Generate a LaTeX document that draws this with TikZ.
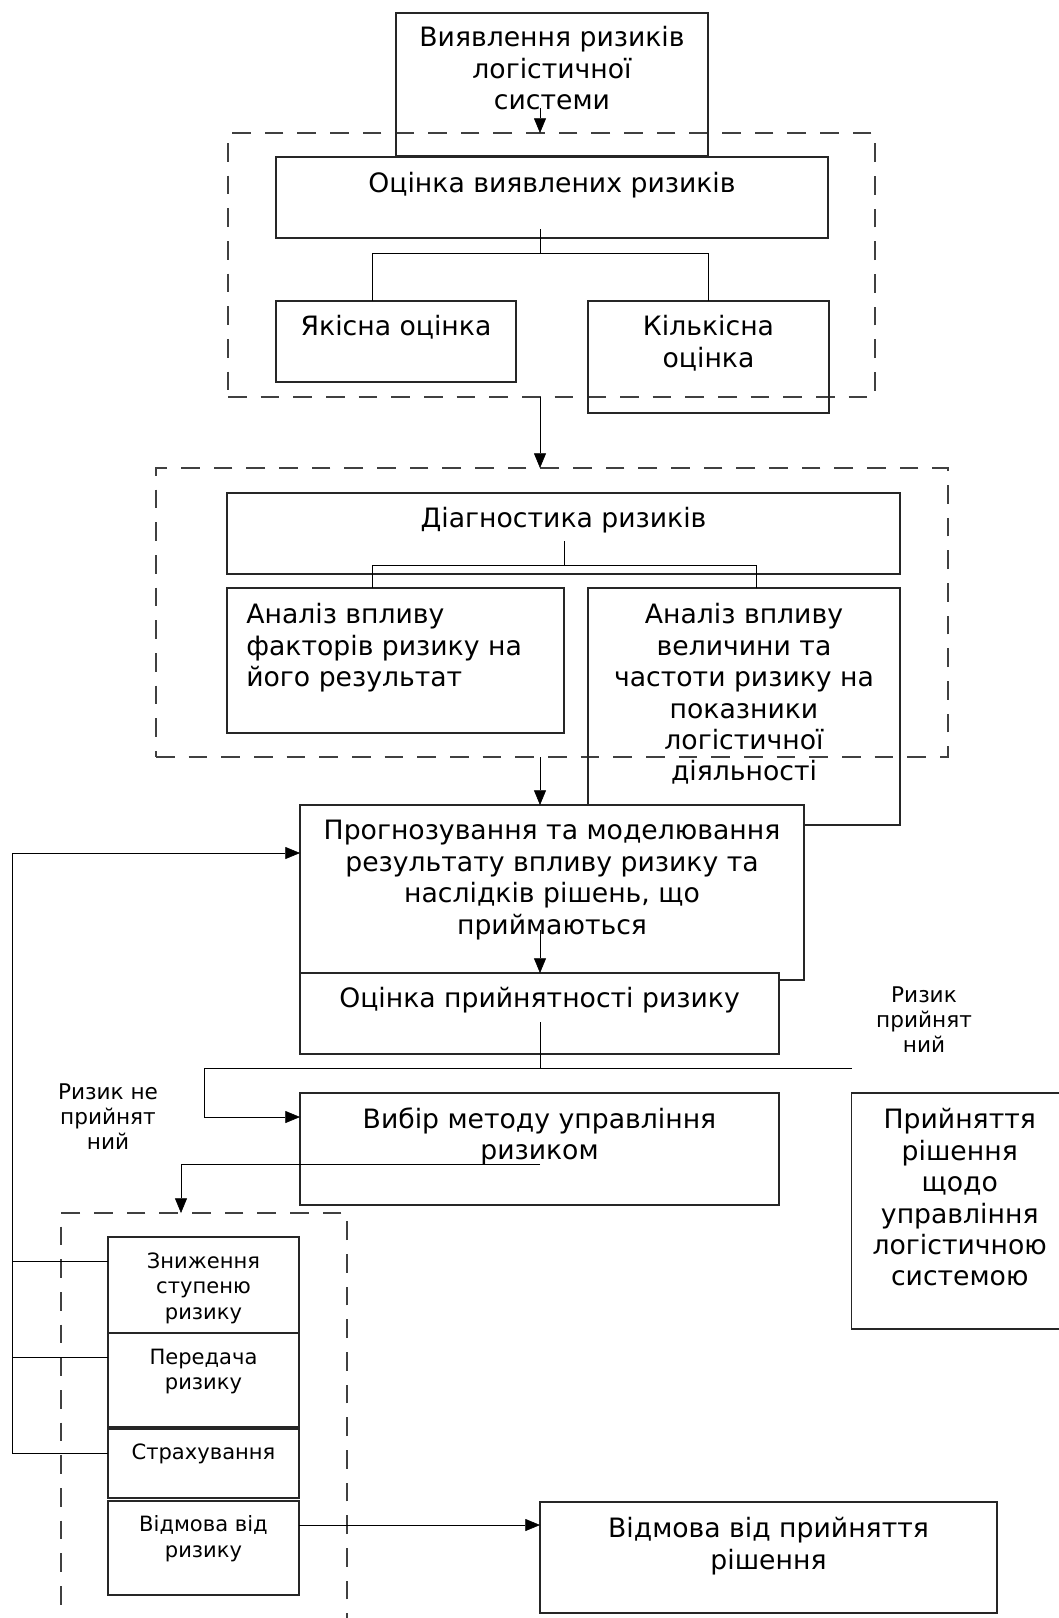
\documentclass[tikz,border=0pt]{standalone}
\usepackage{fontspec}
\setmainfont{DejaVu Sans}
\usetikzlibrary{positioning,fit,arrows.meta}

\begin{document}
\begin{tikzpicture}[x=0.75pt,y=-0.75pt]
    \tikzset{box/.style={draw=black!85,line width=0.8pt,inner sep=0pt,outer sep=0pt},
      boxw/.style={box,fill=white},
      group/.style={draw=black!75,line width=0.8pt,inner sep=0pt,outer sep=0pt,
        dash pattern=on 14pt off 10.5pt},
      txt/.style={inner sep=0pt,outer sep=0pt,align=center,
        font=\fontsize{20}{23.6}\selectfont},
      small/.style={txt,font=\fontsize{15.8}{19}\selectfont},
      lbl/.style={txt,font=\fontsize{16.2}{18.6}\selectfont},
      arr/.style={-{Triangle[length=11pt,width=9pt]}}}

    \useasboundingbox (0,0) rectangle (1058,1618);

    % dashed groups
    \node[group,fit={(228,133) (875,397)}] (grp1) {};
    \node[group,fit={(156,468) (948,757)}] (grp2) {};
    \node[group,fit={(61,1213) (347,1640)}] (grp3) {};

    % identification and assessment
    \node[box,fit={(396,13) (708,156)}] (detect) {};
    \node[txt,below=10pt of detect.north] (detect-t)
      {Виявлення ризиків\\логістичної\\системи};
    \node[box,fit={(276,157) (828,238)}] (assess) {};
    \node[txt,below=11.5pt of assess.north] (assess-t)
      {Оцінка виявлених ризиків};
    \node[box,fit={(276,301) (516,382)}] (qual) {};
    \node[txt,below=11pt of qual.north] (qual-t) {Якісна оцінка};
    \node[box,fit={(588,301) (829,413)}] (quant) {};
    \node[txt,below=11pt of quant.north] (quant-t) {Кількісна\\оцінка};

    % diagnostics
    \node[box,fit={(227,493) (900,574)}] (diag) {};
    \node[txt,below=11pt of diag.north] (diag-t) {Діагностика ризиків};
    \node[box,fit={(227,588) (564,733)}] (factor) {};
    \node[txt,align=left,below right=11.5pt and 14.5pt of factor.north west]
      (factor-t) {Аналіз впливу\\факторів ризику на\\його результат};
    \node[box,fit={(588,588) (900,825)}] (magn) {};
    \node[txt,below=11.5pt of magn.north] (magn-t)
      {Аналіз впливу\\величини та\\частоти ризику на\\показники\\логістичної\\діяльності};

    % forecasting and acceptance
    \node[boxw,fit={(300,805) (804,980)}] (forecast) {};
    \node[txt,below=11.5pt of forecast.north] (forecast-t)
      {Прогнозування та моделювання\\результату впливу ризику та\\наслідків рішень, що\\приймаються};
    \node[boxw,fit={(300,973) (779,1054)}] (accept) {};
    \node[txt,below=11pt of accept.north] (accept-t) {Оцінка прийнятності ризику};
    \node[box,fit={(300,1093) (779,1205)}] (choice) {};
    \node[txt,below=11pt of choice.north] (choice-t)
      {Вибір методу управління\\ризиком};
    \node[box,fit={(851.5,1093) (1068,1329)}] (decide) {};
    \node[txt,below=11.5pt of decide.north] (decide-t)
      {Прийняття\\рішення\\щодо\\управління\\логістичною\\системою};

    % methods
    \node[box,fit={(108,1237) (299,1333)}] (reduce) {};
    \node[small,below=12pt of reduce.north] (reduce-t) {Зниження\\ступеню\\ризику};
    \node[box,fit={(108,1333) (299,1427)}] (transfer) {};
    \node[small,below=12pt of transfer.north] (transfer-t) {Передача\\ризику};
    \node[box,fit={(108,1429) (299,1498)}] (insure) {};
    \node[small,below=11pt of insure.north] (insure-t) {Страхування};
    \node[box,fit={(108,1501) (299,1595)}] (refuse) {};
    \node[small,below=11pt of refuse.north] (refuse-t) {Відмова від\\ризику};
    \node[box,fit={(540,1502) (997,1613)}] (refdec) {};
    \node[txt,below=11.5pt of refdec.north] (refdec-t)
      {Відмова від прийняття\\рішення};

    % branch labels
    \node[lbl,anchor=north] (yes-t) at (924,987) {Ризик\\прийнят\\ний};
    \node[lbl,anchor=north] (no-t) at (108,1084) {Ризик не\\прийнят\\ний};

    % main flow
    \coordinate (a1) at (540,108);
    \draw[arr] (a1) -- (a1 |- grp1.north);
    \draw[arr] (a1 |- grp1.south) -- (a1 |- grp2.north);
    \draw[arr] (a1 |- grp2.south) -- (a1 |- forecast.north);

    \coordinate (t1) at (540,229);
    \coordinate (t1b) at (540,253);
    \coordinate (t1q) at (372,253);
    \draw (t1) -- (t1b) -| (quant.north);
    \draw (t1b) -- (t1q) -- (t1q |- qual.north);

    \coordinate (t2) at (564,541);
    \coordinate (t2b) at (564,565);
    \coordinate (t2f) at (372,565);
    \coordinate (t2m) at (756,565);
    \draw (t2) -- (t2b);
    \draw (t2f) -- (t2m);
    \draw (t2f) -- (t2f |- factor.north);
    \draw (t2m) -- (t2m |- magn.north);

    \coordinate (a2) at (540,930);
    \draw[arr] (a2) -- (a2 |- accept.north);

    \coordinate (a3) at (540,1022);
    \coordinate (fork) at (540,1068);
    \coordinate (yes) at (851.5,1068);
    \coordinate (no) at (204,1068);
    \coordinate (noin) at (204,1117);
    \draw (a3) -- (fork) -- (yes);
    \draw[arr] (fork) -- (no) -- (noin) -- (noin -| choice.west);

    \coordinate (a4) at (540,1164);
    \coordinate (a4l) at (181,1164);
    \draw[arr] (a4) -- (a4l) -- (a4l |- grp3.north);

    % feedback to forecasting
    \coordinate (fb) at (12,853);
    \coordinate (fb1) at (12,1261);
    \coordinate (fb2) at (12,1357);
    \coordinate (fb3) at (12,1453);
    \draw[arr] (insure.west |- fb3) -- (fb3) -- (fb) -- (fb -| forecast.west);
    \draw (reduce.west |- fb1) -- (fb1);
    \draw (transfer.west |- fb2) -- (fb2);

    \coordinate (rf) at (0,1525);
    \draw[arr] (refuse.east |- rf) -- (refdec.west |- rf);
\end{tikzpicture}
\end{document}
